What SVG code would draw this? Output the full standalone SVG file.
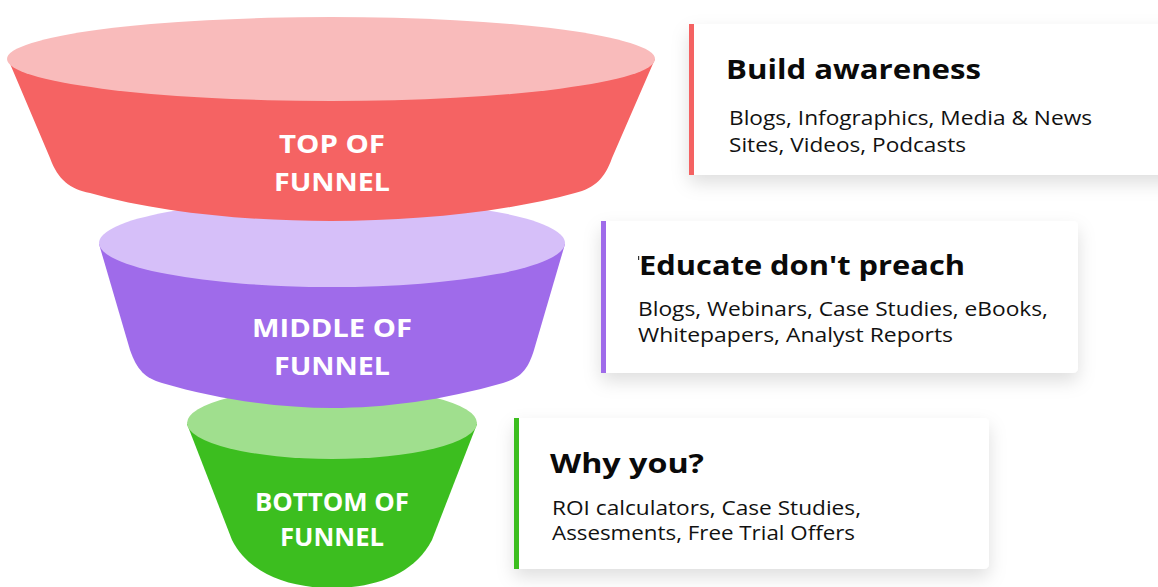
<svg xmlns="http://www.w3.org/2000/svg" width="1158" height="587" viewBox="0 0 1158 587">
  <defs>
    <filter id="cardShadow" x="-10%" y="-20%" width="120%" height="150%">
      <feDropShadow dx="0" dy="8" stdDeviation="9" flood-color="#000" flood-opacity="0.13"/>
    </filter>
    <style>
      .stage { font-family: "Open Sans", "Noto Sans", "Liberation Sans", sans-serif; font-weight: 700; fill: #ffffff; font-size: 25px; text-anchor: middle; }
      .card { fill: #ffffff; filter: url(#cardShadow); }
      .title { font-family: "Open Sans", "Noto Sans", "Liberation Sans", sans-serif; font-weight: 700; fill: #0a0a0a; font-size: 26px; }
      .body { font-family: "Open Sans", "Noto Sans", "Liberation Sans", sans-serif; font-weight: 400; fill: #111111; font-size: 19.5px; }
    </style>
  </defs>
  <rect width="1158" height="587" fill="#ffffff"/>

  <!-- funnel tiers, drawn bottom-up so each upper tier overlaps the rim below it -->
  <g id="tier-bottom">
    <path d="M187,424 L232,540 C250,575 290,588 332,588 C374,588 414,575 432,540 L477,424 Z" fill="#3CBE1F"/>
    <ellipse cx="332" cy="423" rx="145" ry="36" fill="#A0DF8E"/>
    <text class="stage" x="332" y="511" textLength="154" lengthAdjust="spacingAndGlyphs" font-size="23">BOTTOM OF</text>
    <text class="stage" x="332" y="546" textLength="104" lengthAdjust="spacingAndGlyphs" font-size="23">FUNNEL</text>
  </g>

  <g id="tier-middle">
    <path d="M99,244 L130,350 C137,370 145,378 162,383 C220,400 280,408 332,408 C384,408 444,400 503,383 C520,378 528,370 534,350 L565,244 Z" fill="#9F6BEA"/>
    <ellipse cx="332" cy="243" rx="233" ry="44" fill="#D6BFF9"/>
    <text class="stage" x="332" y="337" textLength="160" lengthAdjust="spacingAndGlyphs">MIDDLE OF</text>
    <text class="stage" x="332" y="375" textLength="116" lengthAdjust="spacingAndGlyphs">FUNNEL</text>
  </g>

  <g id="tier-top">
    <path d="M8,59 L50,158 C58,180 70,189 90,193 C160,213 250,221 331,221 C412,221 502,213 575,193 C595,188 605,178 612,158 L655,59 Z" fill="#F56363"/>
    <ellipse cx="331" cy="59" rx="324" ry="42" fill="#F9BBBB"/>
    <text class="stage" x="332" y="153" textLength="106" lengthAdjust="spacingAndGlyphs">TOP OF</text>
    <text class="stage" x="332" y="191" textLength="116" lengthAdjust="spacingAndGlyphs">FUNNEL</text>
  </g>

  <!-- description cards with coloured accent bars -->
  <g id="card-awareness">
    <rect class="card" x="689" y="24" width="490" height="151" rx="5"/>
    <rect x="689" y="24" width="5" height="151" fill="#F46262"/>
    <text class="title" x="726" y="79" textLength="255" lengthAdjust="spacingAndGlyphs">Build awareness</text>
    <text class="body" x="729" y="125" textLength="363" lengthAdjust="spacingAndGlyphs">Blogs, Infographics, Media &amp; News</text>
    <text class="body" x="729" y="152" textLength="237" lengthAdjust="spacingAndGlyphs">Sites, Videos, Podcasts</text>
  </g>

  <g id="card-educate">
    <rect class="card" x="601" y="221" width="477" height="152" rx="5"/>
    <rect x="601" y="221" width="5" height="152" fill="#9F6BEA"/>
    <rect x="638" y="256" width="1.2" height="4" fill="#333333"/>
    <text class="title" x="639" y="275" textLength="326" lengthAdjust="spacingAndGlyphs">Educate don't preach</text>
    <text class="body" x="638" y="316" textLength="410" lengthAdjust="spacingAndGlyphs">Blogs, Webinars, Case Studies, eBooks,</text>
    <text class="body" x="638" y="342" textLength="315" lengthAdjust="spacingAndGlyphs">Whitepapers, Analyst Reports</text>
  </g>

  <g id="card-why">
    <rect class="card" x="514" y="418" width="475" height="151" rx="5"/>
    <rect x="514" y="418" width="5" height="151" fill="#3CBE1F"/>
    <text class="title" x="550" y="473" textLength="154" lengthAdjust="spacingAndGlyphs">Why you?</text>
    <text class="body" x="552" y="515" textLength="309" lengthAdjust="spacingAndGlyphs">ROI calculators, Case Studies,</text>
    <text class="body" x="552" y="540" textLength="303" lengthAdjust="spacingAndGlyphs">Assesments, Free Trial Offers</text>
  </g>

  <g id="connectors"/>
</svg>
